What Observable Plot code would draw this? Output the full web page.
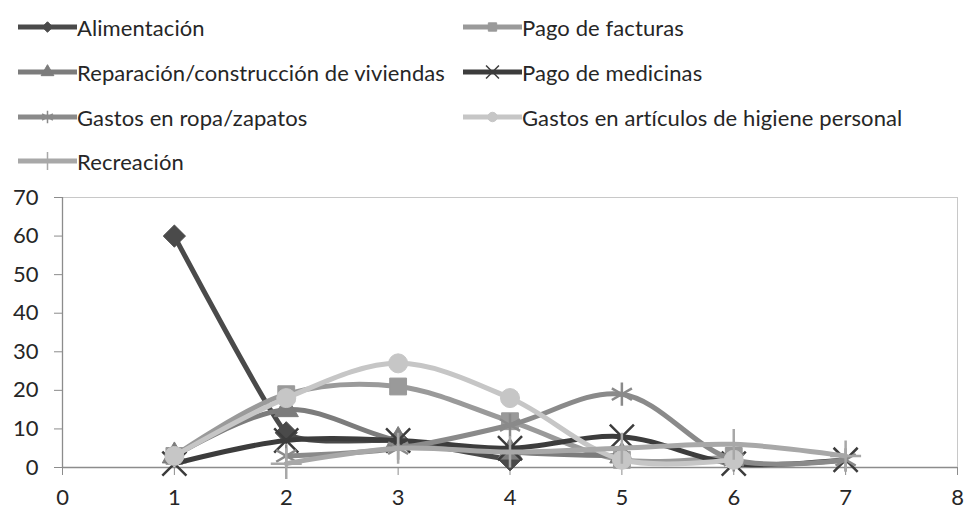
<!DOCTYPE html>
<html><head><meta charset="utf-8">
<script src="https://cdn.jsdelivr.net/npm/d3@7"></script>
<script src="https://cdn.jsdelivr.net/npm/@observablehq/plot@0.6"></script>
<style>
body{margin:0;background:#fff;font-family:Lato,sans-serif;}
#wrap{position:relative;width:966px;height:510px;overflow:hidden;background:#fff}
.leg{position:absolute;display:flex;align-items:center;font-size:22px;letter-spacing:0.1px;color:#262626;white-space:nowrap;height:26px}
.leg svg{display:block;margin-right:0px}
#chart{position:absolute;left:0;top:180px}
</style></head><body>
<div id="wrap"><div id="legend"></div><div id="chart"></div></div>
<script>
// ---- data ----
const positions = [1, 2, 3, 4, 5, 6, 7];
const seriesNames = [
  "Alimentación",
  "Pago de facturas",
  "Reparación/construcción de viviendas",
  "Pago de medicinas",
  "Gastos en ropa/zapatos",
  "Gastos en artículos de higiene personal",
  "Recreación"
];
const alimentacion = [60, 9, 7, 2, null, null, null];
const pagoFacturas = [3, 19, 21, 12, 2, 3, null];
const reparacion = [3, 15, 7, 4, 3, null, null];
const pagoMedicinas = [1, 7, 7, 5, 8, 1, 2];
const ropaZapatos = [null, 3, 5, 11, 19, 2, 2];
const higiene = [3, 18, 27, 18, 2, 2, null];
const recreacion = [null, 1, 5, 4, 5, 6, 3];
const yTicks = [0, 10, 20, 30, 40, 50, 60, 70];
const xTicks = [0, 1, 2, 3, 4, 5, 6, 7, 8];

// ---- styles ----
const allValues = [alimentacion, pagoFacturas, reparacion, pagoMedicinas, ropaZapatos, higiene, recreacion];
const colors = ["#4a4a4a", "#9a9a9a", "#7c7c7c", "#3c3c3c", "#8a8a8a", "#c6c6c6", "#a8a8a8"];
const symbols = ["diamond2", "square", "triangle", "times", "asterisk", "circle", "plus"];
const radii = [10, 9.5, 9, 11, 11, 9.5, 10];
const filled = [true, true, true, false, false, true, false];

const data = [];
seriesNames.forEach((name, i) => {
  allValues[i].forEach((v, j) => {
    if (v != null) data.push({series: name, idx: i, x: positions[j], y: v});
  });
});

// ---- legend ----
const legend = document.getElementById("legend");
const legX = [18, 463];
const legY = [27, 72, 117, 161];
const d3sym = {
  diamond2: d3.symbolDiamond2, square: d3.symbolSquare, triangle: d3.symbolTriangle,
  times: d3.symbolTimes, asterisk: d3.symbolAsterisk, circle: d3.symbolCircle, plus: d3.symbolPlus
};
seriesNames.forEach((name, i) => {
  const div = document.createElement("div");
  div.className = "leg";
  div.style.left = legX[i % 2] + "px";
  div.style.top = (legY[Math.floor(i / 2)] - 13) + "px";
  const svg = d3.create("svg").attr("width", 59).attr("height", 24);
  svg.append("line").attr("x1", 0).attr("x2", 59).attr("y1", 12).attr("y2", 12)
    .attr("stroke", colors[i]).attr("stroke-width", 5);
  svg.append("path").attr("transform", "translate(29.5,12)")
    .attr("d", d3.symbol(d3sym[symbols[i]], filled[i] ? 70 : 110)())
    .attr("fill", filled[i] ? colors[i] : "none")
    .attr("stroke", colors[i]).attr("stroke-width", filled[i] ? 1 : 1.5);
  div.appendChild(svg.node());
  const span = document.createElement("span");
  span.textContent = name;
  div.appendChild(span);
  legend.appendChild(div);
});

// ---- chart ----
const marks = [
  Plot.frame({stroke: "#c8c8c8"}),
  Plot.ruleY([0], {stroke: "#8c8c8c", strokeWidth: 1.3}),
  Plot.ruleX([0], {stroke: "#8c8c8c", strokeWidth: 1.3}),
  Plot.axisY({ticks: yTicks, tickSize: 8, tickPadding: 16, stroke: "#8c8c8c", fill: "#262626", fontSize: 22, label: null}),
  Plot.axisX({ticks: xTicks, tickSize: 8, tickPadding: 14, stroke: "#8c8c8c", fill: "#262626", fontSize: 22, label: null})
];
seriesNames.forEach((name, i) => {
  const d = data.filter(r => r.idx === i);
  const curve = i === 0 ? d3.curveCardinal.tension(0.6) : "catmull-rom";
  marks.push(Plot.line(d, {x: "x", y: "y", stroke: colors[i], strokeWidth: 5, curve}));
  marks.push(Plot.dot(d, {x: "x", y: "y", symbol: () => symbols[i], r: radii[i],
    fill: filled[i] ? colors[i] : "none", stroke: colors[i], strokeWidth: filled[i] ? 1 : 2.5}));
});

const chart = Plot.plot({
  width: 966,
  height: 330,
  marginLeft: 62,
  marginRight: 9,
  marginTop: 17,
  marginBottom: 43,
  x: {domain: [0, 8], axis: null},
  y: {domain: [0, 70], axis: null},
  style: {fontFamily: "Lato, sans-serif", fontSize: "22px", background: "transparent", overflow: "visible"},
  marks
});
document.getElementById("chart").appendChild(chart);
</script>
</body></html>
